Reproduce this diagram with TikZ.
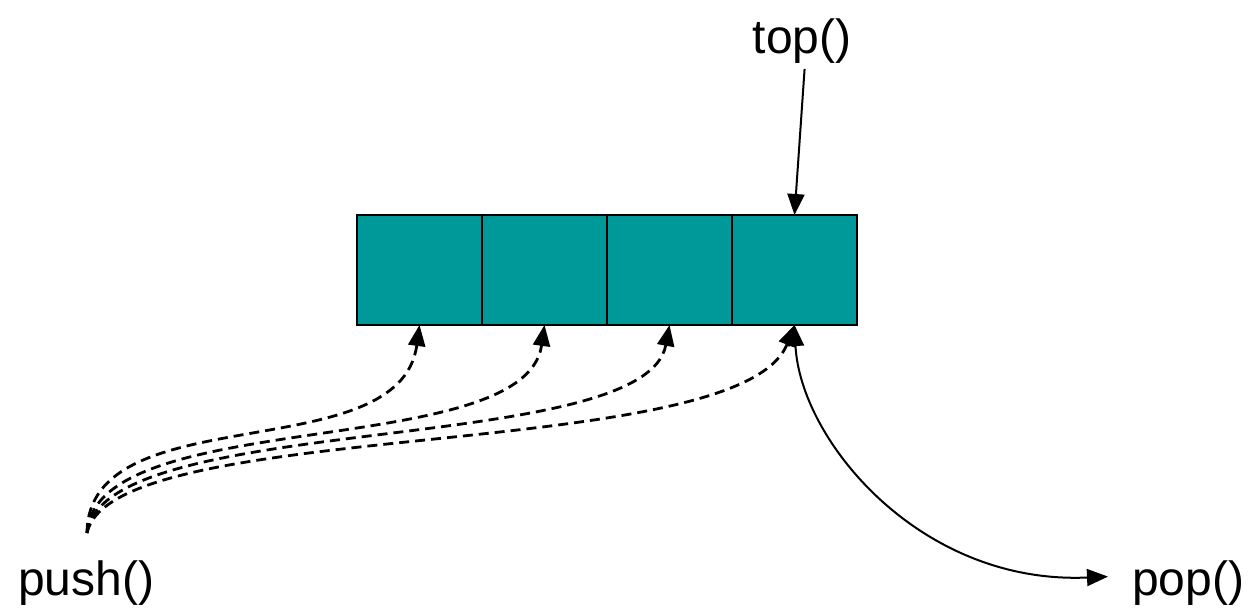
\documentclass[tikz,border=0pt]{standalone}
\usepackage{fontspec}
\setmainfont{Liberation Sans}
\usetikzlibrary{arrows.meta}
\definecolor{teal1}{RGB}{0,153,153}
\begin{document}
\begin{tikzpicture}[x=1pt,y=-1pt,
  cell/.style={draw=black,line width=1.8pt,fill=teal1,minimum width=125pt,minimum height=110pt,inner sep=0pt,outer sep=0pt,anchor=north west},
  lbl/.style={font=\fontsize{48}{56}\selectfont,inner sep=0pt,outer sep=0pt},
  tip/.style={-{Triangle[length=21pt,width=17pt]}},
  solidarr/.style={tip,line width=2pt},
  pusharr/.style={tip,line width=2.8pt,dash pattern=on 10pt off 6pt}]
\useasboundingbox (0,0) rectangle (1250,610);
\node[cell] (b1) at (357,215) {};
\node[cell] (b2) at (482,215) {};
\node[cell] (b3) at (607,215) {};
\node[cell] (b4) at (732,215) {};
\node[lbl,anchor=base] (top) at (802,53) {top()};
\node[lbl,anchor=base west] (push) at (18,595) {push()};
\node[lbl,anchor=base west] (pop) at (1132,595) {pop()};
\coordinate (ps) at (87,533);
\draw[solidarr,shorten <=6pt] ([xshift=3pt]top.south) -- (b4.north);
\draw[pusharr] (ps) .. controls (88,395) and (400,470) .. (b1.south);
\draw[pusharr] (ps) .. controls (95,405) and (525,462) .. (b2.south);
\draw[pusharr] (ps) .. controls (103,410) and (645,458) .. (b3.south);
\draw[pusharr] (ps) .. controls (112,415) and (740,465) .. (b4.south);
\draw[solidarr,{Triangle[length=21pt,width=17pt]}-{Triangle[length=21pt,width=17pt]}] (b4.south) .. controls (800,440) and (920,585) .. ([xshift=-24pt,yshift=6pt]pop.west);
\end{tikzpicture}
\end{document}
